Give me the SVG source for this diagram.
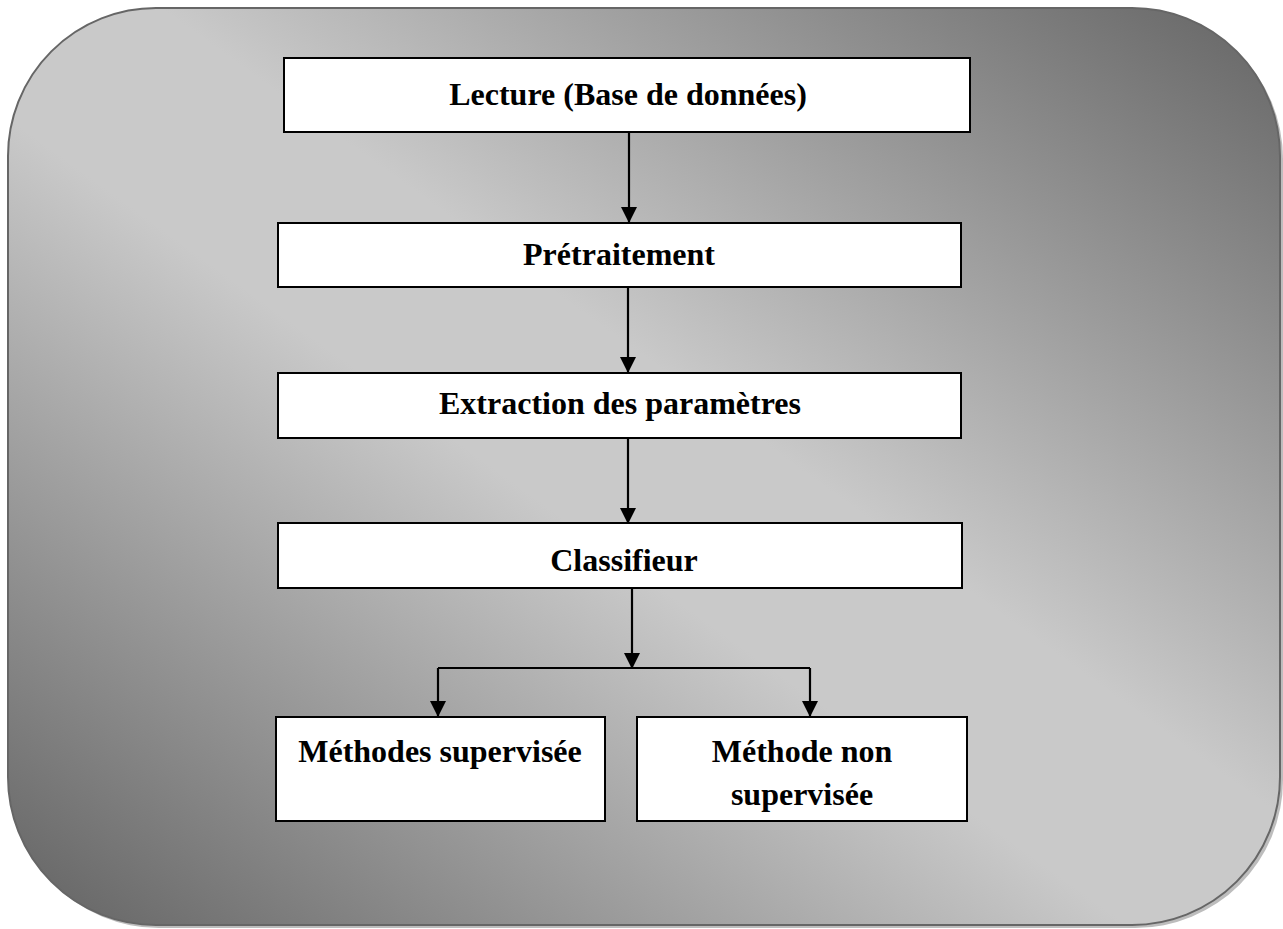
<svg xmlns="http://www.w3.org/2000/svg" width="1283" height="929" viewBox="0 0 1283 929">
  <defs>
    <linearGradient id="bg" x1="0" y1="1" x2="1" y2="0">
      <stop offset="0" stop-color="#626262"/>
      <stop offset="0.44" stop-color="#c9c9c9"/>
      <stop offset="0.56" stop-color="#c9c9c9"/>
      <stop offset="1" stop-color="#646464"/>
    </linearGradient>
    <marker id="arrow" markerUnits="userSpaceOnUse" markerWidth="16" markerHeight="16" viewBox="0 0 16 16" refX="15" refY="8" orient="auto">
      <path d="M0,0 L16,8 L0,16 Z" fill="#000"/>
    </marker>
    <style>
      .box { fill: #ffffff; stroke: #000000; stroke-width: 2; }
      .lbl { font-family: "Liberation Serif", "Times New Roman", serif; font-weight: bold; font-size: 32px; fill: #000; text-anchor: middle; }
      .conn { stroke: #000; stroke-width: 2.2; fill: none; }
    </style>
  </defs>

  <g id="background">
    <rect x="11" y="11" width="1272" height="917" rx="148" ry="148" fill="#bdbdbd"/>
    <rect x="8" y="8" width="1272" height="917" rx="148" ry="148" fill="url(#bg)" stroke="#666666" stroke-width="2"/>
  </g>

  <g id="connectors">
    <line class="conn" x1="629" y1="133" x2="629" y2="222" marker-end="url(#arrow)"/>
    <line class="conn" x1="628" y1="288" x2="628" y2="372" marker-end="url(#arrow)"/>
    <line class="conn" x1="628" y1="438" x2="628" y2="523" marker-end="url(#arrow)"/>
    <line class="conn" x1="632" y1="589" x2="632" y2="668" marker-end="url(#arrow)"/>
    <line class="conn" x1="438" y1="668" x2="810" y2="668"/>
    <line class="conn" x1="438" y1="668" x2="438" y2="716" marker-end="url(#arrow)"/>
    <line class="conn" x1="810" y1="668" x2="810" y2="716" marker-end="url(#arrow)"/>
  </g>

  <g id="node-lecture">
    <rect class="box" x="284" y="58" width="686" height="74"/>
    <text class="lbl" x="628" y="105">Lecture (Base de données)</text>
  </g>

  <g id="node-pretraitement">
    <rect class="box" x="278" y="223" width="683" height="64"/>
    <text class="lbl" x="619" y="265">Prétraitement</text>
  </g>

  <g id="node-extraction">
    <rect class="box" x="278" y="373" width="683" height="65"/>
    <text class="lbl" x="620" y="414">Extraction des paramètres</text>
  </g>

  <g id="node-classifieur">
    <rect class="box" x="278" y="523" width="684" height="65"/>
    <text class="lbl" x="624" y="571">Classifieur</text>
  </g>

  <g id="node-supervisee">
    <rect class="box" x="276" y="717" width="329" height="104"/>
    <text class="lbl" x="440" y="762">Méthodes supervisée</text>
  </g>

  <g id="node-non-supervisee">
    <rect class="box" x="637" y="717" width="330" height="104"/>
    <text class="lbl" x="802" y="762">Méthode non</text>
    <text class="lbl" x="802" y="805">supervisée</text>
  </g>
</svg>
